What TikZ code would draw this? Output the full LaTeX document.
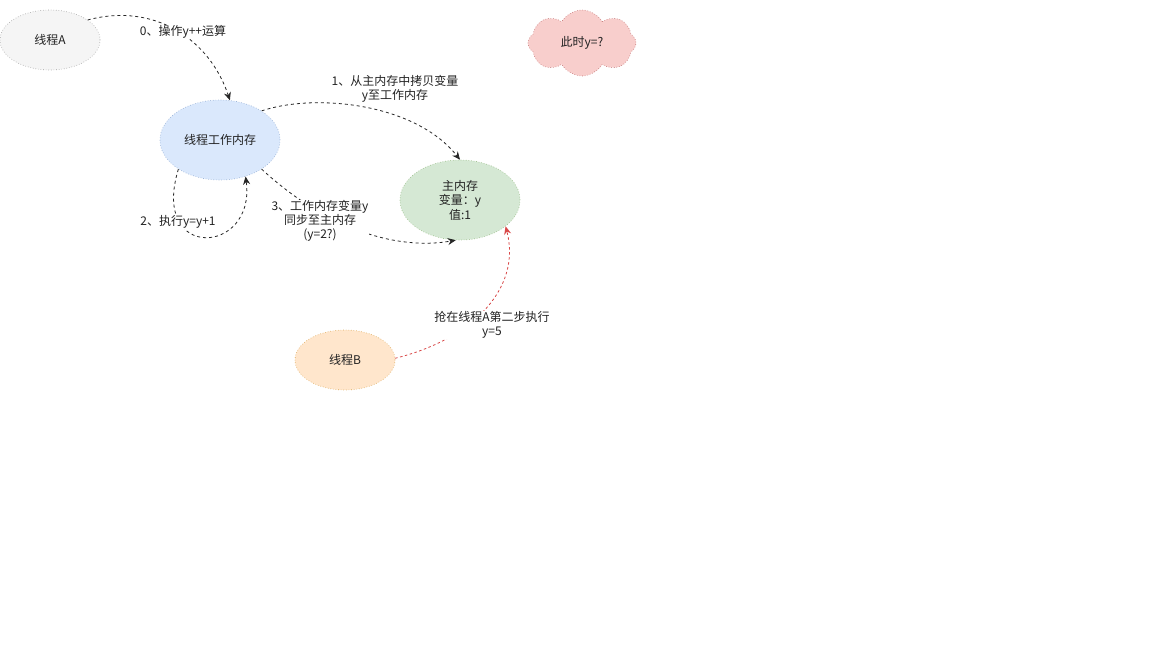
\documentclass[tikz,border=0pt]{standalone}
\usepackage{fontspec}
\setmainfont{Noto Sans CJK SC}
\usetikzlibrary{shapes.geometric,shapes.symbols,arrows.meta}
\definecolor{txt}{HTML}{222222}
\definecolor{fA}{HTML}{F5F5F5}\definecolor{dA}{HTML}{9A9A9A}
\definecolor{fW}{HTML}{DAE8FC}\definecolor{dW}{HTML}{8FA9D0}
\definecolor{fM}{HTML}{D5E8D4}\definecolor{dM}{HTML}{96BA82}
\definecolor{fB}{HTML}{FFE6CC}\definecolor{dB}{HTML}{D9A650}
\definecolor{fC}{HTML}{F8CECC}\definecolor{dC}{HTML}{C07070}
\definecolor{red1}{HTML}{D94848}
\tikzset{
  ell/.style={ellipse, dotted, line width=0.6pt, inner sep=0pt, align=center, text=txt, font=\fontsize{12}{14.5}\selectfont},
  lbl/.style={fill=white, inner sep=1pt, align=center, text=txt, font=\fontsize{12}{14}\selectfont},
  conn/.style={dashed, dash pattern=on 3pt off 3pt, line width=0.8pt, black!85, -{Stealth[length=8pt,width=7pt]}},
  rconn/.style={conn, red1, dash pattern=on 2.5pt off 2.5pt}
}
\begin{document}
\begin{tikzpicture}[x=1pt,y=-1pt]
\useasboundingbox (0,0) rectangle (1152,648);
\fill[white] (0,0) rectangle (1152,648);
% nodes
\node[ell, fill=fA, draw=dA, minimum width=100pt, minimum height=60pt] (a) at (50,40) {线程A};
\node[cloud, cloud puffs=8, cloud puff arc=120, aspect=1.6, dotted, line width=0.6pt, fill=fC, draw=dC, minimum width=108pt, minimum height=66pt, inner sep=0pt, text=txt, font=\fontsize{12}{14}\selectfont] (c) at (582,43) {此时y=?};
\node[ell, fill=fW, draw=dW, minimum width=120pt, minimum height=80pt] (w) at (220,140) {线程工作内存};
\node[ell, fill=fM, draw=dM, minimum width=120pt, minimum height=80pt] (m) at (460,200) {主内存\\变量：y\\值:1};
\node[ell, fill=fB, draw=dB, minimum width=100pt, minimum height=60pt] (b) at (345,360) {线程B};
% connectors
\draw[conn] (a.28) .. controls (155,2) and (210,40) .. (w.76);
\node[lbl] (l0) at (183,32) {0、操作y++运算};
\node[lbl, fill=none] (l1) at (395,89) {1、从主内存中拷贝变量\\y至工作内存};
\draw[conn] (w.35) .. controls (315,93) and (415,103) .. (m.90);
\draw[conn] (w.215) .. controls (150,262) and (256,255) .. (w.305);
\node[lbl] (l2) at (178,222) {2、执行y=y+1};
\draw[conn] (w.325) .. controls (330,232) and (400,250) .. (m.264);
\node[lbl] (l3) at (320,221) {3、工作内存变量y\\同步至主内存\\(y=2?)};
\draw[rconn] (b.2) .. controls (470,340) and (522,290) .. (m.330);
\node[lbl] (l4) at (492,325) {抢在线程A第二步执行\\y=5};
\end{tikzpicture}
\end{document}
